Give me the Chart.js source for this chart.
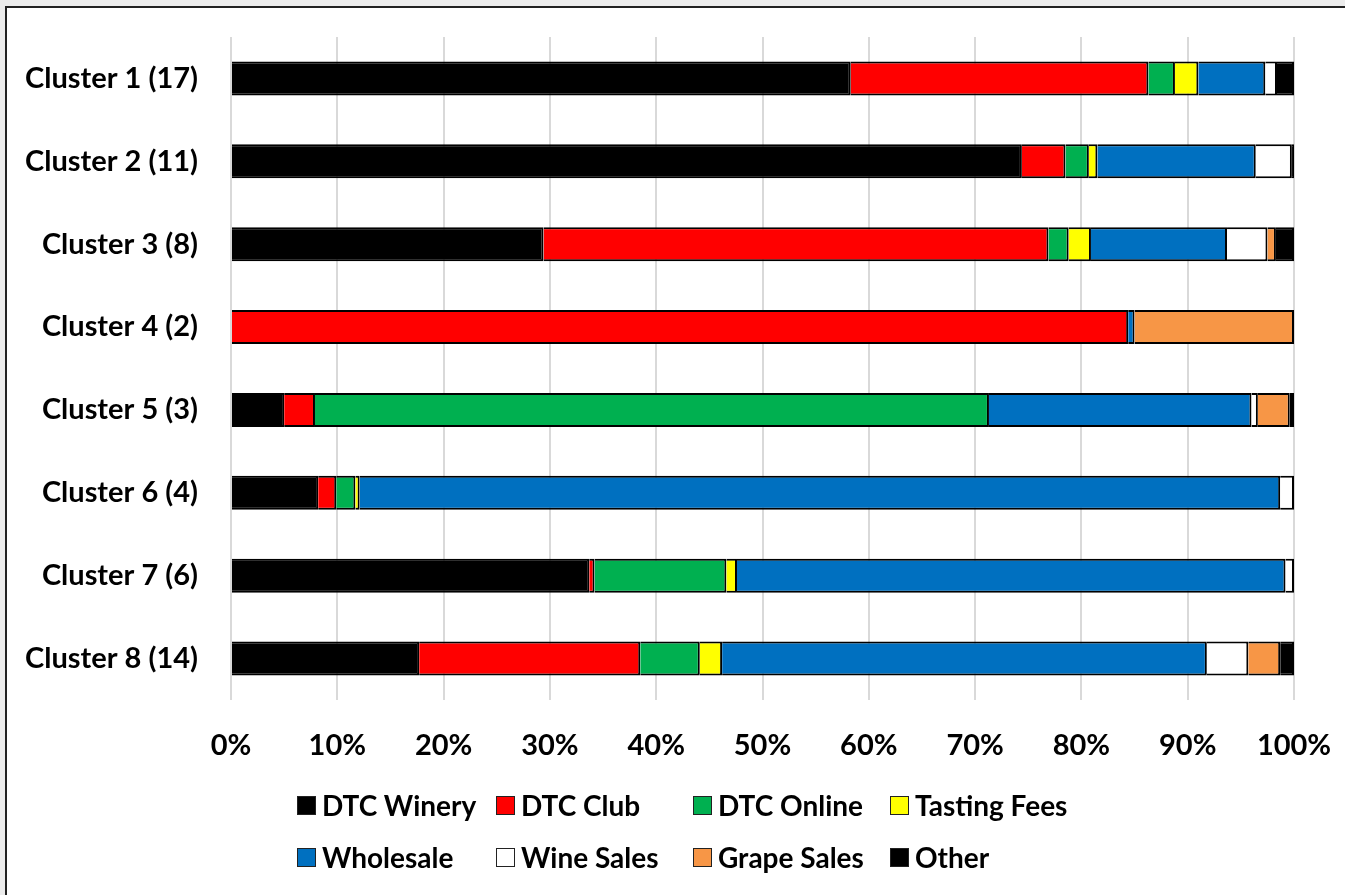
<!DOCTYPE html>
<html>
<head>
<meta charset="utf-8">
<script src="https://cdn.jsdelivr.net/npm/chart.js@4"></script>
<style>
  html, body { margin: 0; padding: 0; background: #ececec; overflow: hidden; }
  #frame {
    position: absolute; left: 5px; top: 6px; width: 1345px; height: 895px;
    background: #fff; border-left: 2px solid #222; border-top: 2px solid #222;
  }
  #wrap { position: absolute; left: 0; top: 0; width: 1345px; height: 895px; }
  .legend { position: absolute; font: bold 28px Lato, sans-serif; color: #000; }
  .item { position: absolute; white-space: nowrap; display: flex; align-items: center; }
  .box { width: 17px; height: 17px; border: 1px solid #222; margin-right: 6px; }
</style>
</head>
<body>
<div id="frame"></div>
<div id="wrap"><canvas id="chart" width="1345" height="895"></canvas></div>
<div class="legend" id="legend"></div>
<script>
const categories = ["Cluster 1 (17)", "Cluster 2 (11)", "Cluster 3 (8)", "Cluster 4 (2)",
  "Cluster 5 (3)", "Cluster 6 (4)", "Cluster 7 (6)", "Cluster 8 (14)"];

const dtcWinery   = [58.3, 74.4, 29.4, 0,    5.0,  8.2,  33.7, 17.7];
const dtcClub     = [28.0, 4.1,  47.5, 84.4, 2.9,  1.7,  0.5,  20.8];
const dtcOnline   = [2.5,  2.2,  1.9,  0,    63.4, 1.8,  12.4, 5.6];
const tastingFees = [2.2,  0.8,  2.1,  0,    0,    0.4,  1.0,  2.1];
const wholesale   = [6.3,  14.9, 12.8, 0.6,  24.7, 86.6, 51.6, 45.6];
const wineSales   = [1.1,  3.4,  3.8,  0,    0.6,  1.3,  0.8,  3.9];
const grapeSales  = [0,    0,    0.8,  15.0, 3.0,  0,    0,    3.0];
const other       = [1.6,  0.2,  1.7,  0,    0.4,  0,    0,    1.3];

const xTicks = [0, 10, 20, 30, 40, 50, 60, 70, 80, 90, 100];

const series = [
  { label: "DTC Winery",   data: dtcWinery,   color: "#000000" },
  { label: "DTC Club",     data: dtcClub,     color: "#ff0000" },
  { label: "DTC Online",   data: dtcOnline,   color: "#00b050" },
  { label: "Tasting Fees", data: tastingFees, color: "#ffff00" },
  { label: "Wholesale",    data: wholesale,   color: "#0070c0" },
  { label: "Wine Sales",   data: wineSales,   color: "#ffffff" },
  { label: "Grape Sales",  data: grapeSales,  color: "#f79646" },
  { label: "Other",        data: other,       color: "#000000" }
];

const font = { family: "Lato, sans-serif", size: 29, weight: "bold" };

new Chart(document.getElementById("chart"), {
  type: "bar",
  data: {
    labels: categories,
    datasets: series.map(s => ({
      label: s.label,
      data: s.data,
      backgroundColor: s.color,
      borderColor: "#000",
      borderWidth: 2,
      borderSkipped: "start",
      categoryPercentage: 1,
      barPercentage: 0.41
    }))
  },
  options: {
    indexAxis: "y",
    responsive: false,
    animation: false,
    layout: { padding: { top: 37, right: 51, left: 0, bottom: 0 } },
    plugins: { legend: { display: false }, tooltip: { enabled: false } },
    scales: {
      x: {
        stacked: true, min: 0, max: 100,
        afterBuildTicks: axis => { axis.ticks = xTicks.map(v => ({ value: v })); },
        ticks: { callback: v => v + "%", font, color: "#000", padding: 28, maxRotation: 0 },
        grid: { color: "#d9d9d9", lineWidth: 2, drawTicks: false },
        border: { display: false },
        afterFit: axis => { axis.height = 195; axis.paddingLeft = 0; axis.paddingRight = 0; }
      },
      y: {
        stacked: true,
        ticks: { font, color: "#000", padding: 33 },
        grid: { display: false, drawTicks: false },
        border: { display: false },
        afterFit: axis => { axis.width = 231; axis.paddingTop = 0; axis.paddingBottom = 0; }
      }
    }
  }
});

// legend laid out in columns like the original
const cols = [297, 496, 693, 890];
const rows = [805, 857];
const legend = document.getElementById("legend");
series.forEach((s, i) => {
  const el = document.createElement("div");
  el.className = "item";
  el.style.left = cols[i % 4] + "px";
  el.style.top = (rows[Math.floor(i / 4)] - 18) + "px";
  el.style.height = "36px";
  el.innerHTML = '<span class="box" style="background:' + s.color + '"></span><span>' + s.label + '</span>';
  legend.appendChild(el);
});
</script>
</body>
</html>
